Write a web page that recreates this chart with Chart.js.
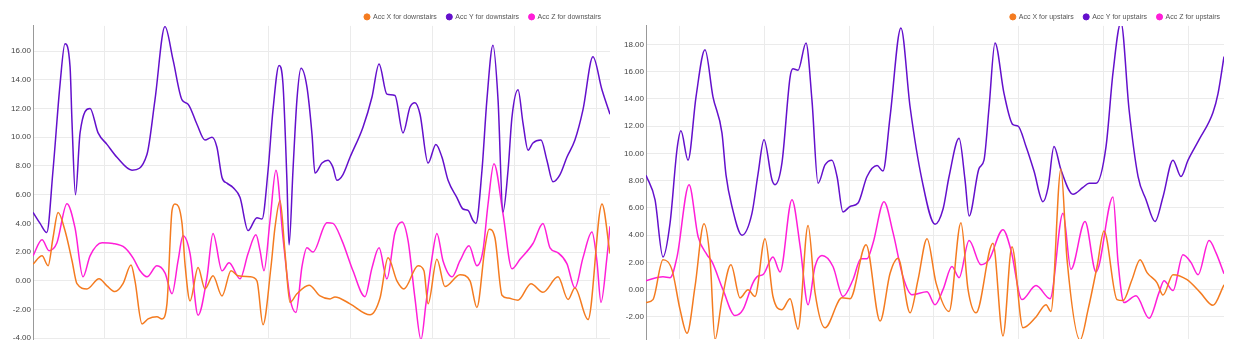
<!DOCTYPE html>
<html>
<head>
<meta charset="utf-8">
<script src="https://cdn.jsdelivr.net/npm/chart.js@4.4.0/dist/chart.umd.min.js"></script>
<style>
    body { margin: 0; background: #fff; }
    .row { display: flex; width: 1236px; height: 352px; }
    .cell { position: relative; width: 618px; height: 352px; }
</style>
</head>
<body>
<div class="row">
    <div class="cell"><canvas id="downstairs"></canvas></div>
    <div class="cell"><canvas id="upstairs"></canvas></div>
</div>
<script>
// time in ms, acceleration in m/s²
const downTimeX = [61,116,153,183,214,256,299,329,390,464, 512,561,610,659,683,726,763,817,848,878,
    909,927,970,988,1019,1068,1110,1159,1214,1269, 1312,1385,1427,1464,1513,1537,1568,1598,1629,1671,
    1745,1812,1873,1903,1995,2117,2178,2227,2281,2324, 2410,2446,2471,2525,2574,2666,2727,2769,2818,2843,
    2879,2922,2959,3020,3099,3172,3264,3325,3367,3447, 3532,3581];
const downAccX = [1.16,1.74,1.05,3.0,4.75,3.5,1.4,-0.2,-0.56,0.14, -0.35,-0.75,-0.2,1.1,0.0,-3.0,-2.65,-2.5,-2.65,-1.6,
    4.9,5.35,4.0,1.2,-1.4,0.93,-0.56,0.35,-1.05,0.7, 0.35,0.28,0.0,-3.05,1.0,3.7,5.6,2.0,-1.5,-0.9,
    -0.3,-1.05,-1.26,-1.12,-1.6,-2.37,-1.2,1.6,0.0,-0.56, 1.05,0.7,-1.6,1.5,-0.4,0.42,0.0,-1.85,2.3,3.6,
    3.0,-1.0,-1.2,-1.35,-0.2,-0.8,0.28,-1.3,-0.5,-2.7, 5.35,1.9];

const downTimeY = [61,104,145,183,226,256,287,299,320,348, 409,458,512,573,665,756,805,866,915,970,
    1007,1061,1110,1153,1183,1214,1244,1281,1324,1373, 1427,1458,1495,1525,1562,1586,1610,1623,1647,1671,
    1696,1732,1763,1781,1824,1861,1891,1915,1952,1995, 2074,2129,2172,2220,2269,2318,2361,2391,2422,2471,
    2519,2556,2593,2647,2684,2715,2745,2763,2800,2830, 2867,2898,2928,2959,2983,3020,3050,3081,3111,3160,
    3196,3233,3276,3318,3367,3416,3477,3532,3581];
const downAccY = [4.77,4.0,3.37,7.7,13.7,16.5,14.9,11.0,6.0,10.3, 12.0,10.3,9.5,8.6,7.7,8.8,12.6,17.7,15.4,12.6,
    12.3,10.9,9.8,10.0,9.3,7.2,6.8,6.5,5.8,3.5, 4.4,4.3,7.7,11.9,15.0,13.7,7.0,2.5,7.7,12.6,
    14.8,13.5,10.2,7.5,8.2,8.4,7.9,7.0,7.4,8.6, 10.7,12.8,15.1,13.0,12.9,10.3,12.1,12.4,11.6,8.2,
    9.5,8.6,7.0,5.8,5.0,4.9,4.2,4.0,7.7,12.6, 16.4,12.6,4.8,7.7,11.4,13.3,11.0,9.1,9.6,9.8,
    8.4,6.9,7.4,8.6,9.8,11.9,15.6,13.3,11.6];

const downTimeZ = [61,116,159,207,268,317,366,409,482,549, 622,671,714,756,817,866,909,946,976,1019,
    1068,1122,1159,1214,1257,1324,1373,1421,1446,1470, 1507,1543,1586,1629,1665,1702,1732,1769,1854,1891,
    1946,2013,2086,2129,2172,2220,2269,2312,2349,2391, 2428,2458,2495,2525,2562,2617,2666,2721,2769,2806,
    2837,2873,2928,2983,3032,3111,3172,3215,3264,3318, 3367,3416,3471,3501,3526,3562,3581];
const downAccZ = [1.74,2.86,2.1,2.65,5.37,3.7,0.28,1.74,2.65,2.6, 2.3,1.6,0.7,0.28,1.05,0.56,-0.9,1.4,3.14,1.9,
    -2.4,0.21,3.3,0.7,1.26,0.14,1.9,3.2,2.1,0.7, 4.2,7.7,3.0,-1.2,-2.2,1.0,2.3,2.0,4.05,4.0,
    2.8,0.7,-1.1,0.9,2.3,0.14,3.35,4.1,2.8,-1.2, -4.1,-1.6,1.6,3.3,1.4,0.28,1.4,2.44,1.05,2.1,
    5.35,8.15,4.7,0.84,1.5,2.6,4.0,2.3,1.95,1.2, -0.5,1.6,3.4,1.4,-1.5,1.6,3.8];

const upTimeX = [301,342,401,454,502,543,590,643,679,708, 749,802,856,903,944,1003,1050,1103,1151,1198,
    1257,1298,1357,1457,1505,1599,1682,1741,1788,1859, 1906,1959,2012,2089,2159,2201,2248,2348,2407,2460,
    2525,2602,2661,2690,2749,2785,2862,2909,2962,3003, 3080,3115,3168,3216,3257,3316,3351,3410,3493,3570,
    3646,3711];
const upAccX = [-0.95,-0.73,2.2,1.47,-1.47,-3.2,0.22,4.83,2.2,-3.66, -0.73,1.83,-0.6,0.0,-0.5,3.74,-0.5,-1.47,-0.66,-2.9,
    4.7,-0.2,-2.8,-0.6,-0.66,3.3,-2.3,1.2,2.3,-1.7, 0.73,3.74,0.5,-1.6,4.9,0.0,-1.7,3.4,-3.4,3.15,
    -2.8,-2.0,-1.1,-1.6,8.86,2.2,-3.7,-1.47,1.7,4.3, -0.73,-0.8,0.73,2.2,1.25,0.5,-0.4,1.1,0.73,-0.2,
    -1.15,0.36];

const upTimeY = [301,354,401,443,484,507,549,596,649,696, 749,773,808,867,926,962,997,1044,1062,1103,
    1151,1168,1198,1245,1280,1316,1357,1398,1428,1463, 1505,1552,1605,1664,1699,1741,1805,1859,1929,2006,
    2053,2089,2148,2183,2207,2266,2295,2325,2360,2413, 2466,2496,2543,2590,2643,2673,2708,2749,2820,2879,
    2915,2956,3015,3056,3103,3151,3204,3251,3304,3351, 3410,3457,3499,3564,3646,3676,3711];
const upAccY = [8.4,6.6,2.4,4.9,10.3,11.65,9.5,14.15,17.6,14.15, 11.5,8.4,6.1,4.0,5.6,8.5,11.0,8.06,7.7,9.3,
    15.6,16.2,16.1,18.1,13.9,7.8,9.15,9.5,8.3,5.7, 6.1,6.35,8.3,9.1,8.7,12.7,19.2,13.4,8.06,4.8,
    5.9,8.3,11.1,8.06,5.4,8.9,9.5,13.4,18.1,14.4, 12.1,12.0,10.5,8.7,6.45,7.5,10.5,8.8,7.0,7.5,
    7.8,7.8,10.5,15.9,19.6,13.2,8.3,6.6,5.0,6.8, 9.5,8.3,9.5,11.0,13.0,14.4,17.1];

const upTimeZ = [301,401,443,484,555,608,661,690,755,826, 873,932,962,991,1050,1092,1162,1210,1257,1298,
    1339,1404,1463,1522,1569,1605,1640,1705,1758,1817, 1870,1959,2006,2053,2106,2148,2207,2277,2325,2407,
    2454,2519,2602,2685,2761,2808,2891,2956,3056,3086, 3121,3192,3269,3328,3357,3410,3469,3516,3558,3623,
    3664,3711];
const upAccZ = [0.66,0.95,0.88,2.4,7.7,3.9,2.56,2.05,0.0,-1.9, -1.47,0.5,1.0,1.1,2.4,1.3,6.6,3.2,-1.1,1.7,
    2.5,1.7,-0.5,0.73,2.27,2.27,3.4,6.45,4.2,0.95, -0.37,-0.15,-1.1,0.0,1.7,0.88,3.6,1.83,2.2,4.4,
    2.9,-0.73,0.3,-0.66,5.6,1.5,5.0,1.3,6.8,2.0, -0.95,-0.44,-2.1,-0.2,0.66,-0.07,2.56,2.0,1.1,3.6,
    2.7,1.17];

// vertical grid every half second
const gridTimes = [500, 1000, 1500, 2000, 2500, 3000, 3500];

const axisNames = ["Acc X", "Acc Y", "Acc Z"];
const colors = ["#f47b20", "#6410cc", "#ff1ed8"];

Chart.defaults.font.family = "'Liberation Sans', Arial, sans-serif";

// pulls the plot area up closer to the legend row, and stops the
// right-aligned legend from wrapping its last item on float rounding
const tightLegend = {
    id: "tightLegend",
    afterInit(chart, _args, opts) {
        const legend = chart.legend;
        if (!legend) return;
        const shift = opts.shift || 0;
        const fit = legend.fit;
        const draw = legend.draw;
        legend.fit = function () {
            fit.call(this);
            this.height -= 4.5;
        };
        legend.draw = function () {
            const right = this.right;
            const widths = this.lineWidths;
            this.right = right + 50 + shift;
            this.lineWidths = widths.map((w) => w + 50);
            draw.call(this);
            this.right = right;
            this.lineWidths = widths;
        };
    }
};

const toPoints = (times, values) => times.map((t, i) => ({ x: t, y: values[i] }));

function createChart(id, activity, series, xRange, yRange, padding, legendShift) {
    const ctx = document.getElementById(id).getContext("2d");
    return new Chart(ctx, {
        type: "line",
        data: {
            datasets: series.map((s, i) => ({
                label: `${axisNames[i]} for ${activity}`,
                data: toPoints(s[0], s[1]),
                borderColor: colors[i],
                backgroundColor: colors[i],
                fill: false
            }))
        },
        options: {
            responsive: true,
            maintainAspectRatio: false,
            animation: false,
            layout: { padding },
            elements: {
                point: { radius: 0 },
                line: { borderWidth: 1.5, cubicInterpolationMode: "monotone" }
            },
            plugins: {
                tightLegend: { shift: legendShift },
                legend: {
                    position: "top",
                    align: "end",
                    labels: {
                        usePointStyle: true,
                        pointStyle: "circle",
                        boxWidth: 5,
                        boxHeight: 4.3,
                        padding: 10,
                        color: "#555",
                        font: { size: 7 }
                    }
                },
                tooltip: { enabled: false }
            },
            scales: {
                x: {
                    type: "linear",
                    min: xRange[0],
                    max: xRange[1],
                    afterBuildTicks: (axis) => {
                        axis.ticks = gridTimes.map((v) => ({ value: v }));
                    },
                    ticks: { display: false },
                    grid: { color: "#ebebeb", drawTicks: false },
                    border: { display: false }
                },
                y: {
                    min: yRange[0],
                    max: yRange[1],
                    ticks: {
                        stepSize: 2,
                        includeBounds: false,
                        padding: 2,
                        color: "#444",
                        font: { size: 8 },
                        callback: (v) => v.toFixed(2)
                    },
                    grid: { color: "#ebebeb", drawTicks: false },
                    border: { color: "#999" }
                }
            }
        },
        plugins: [tightLegend]
    });
}

createChart("downstairs", "downstairs",
    [[downTimeX, downAccX], [downTimeY, downAccY], [downTimeZ, downAccZ]],
    [61, 3581], [-4.05, 17.75],
    { left: 9, right: 8, top: 3.4, bottom: 13 }, 1);

createChart("upstairs", "upstairs",
    [[upTimeX, upAccX], [upTimeY, upAccY], [upTimeZ, upAccZ]],
    [301, 3711], [-3.62, 19.35],
    { left: 4, right: 12, top: 3.4, bottom: 13 }, 6);
</script>
</body>
</html>
